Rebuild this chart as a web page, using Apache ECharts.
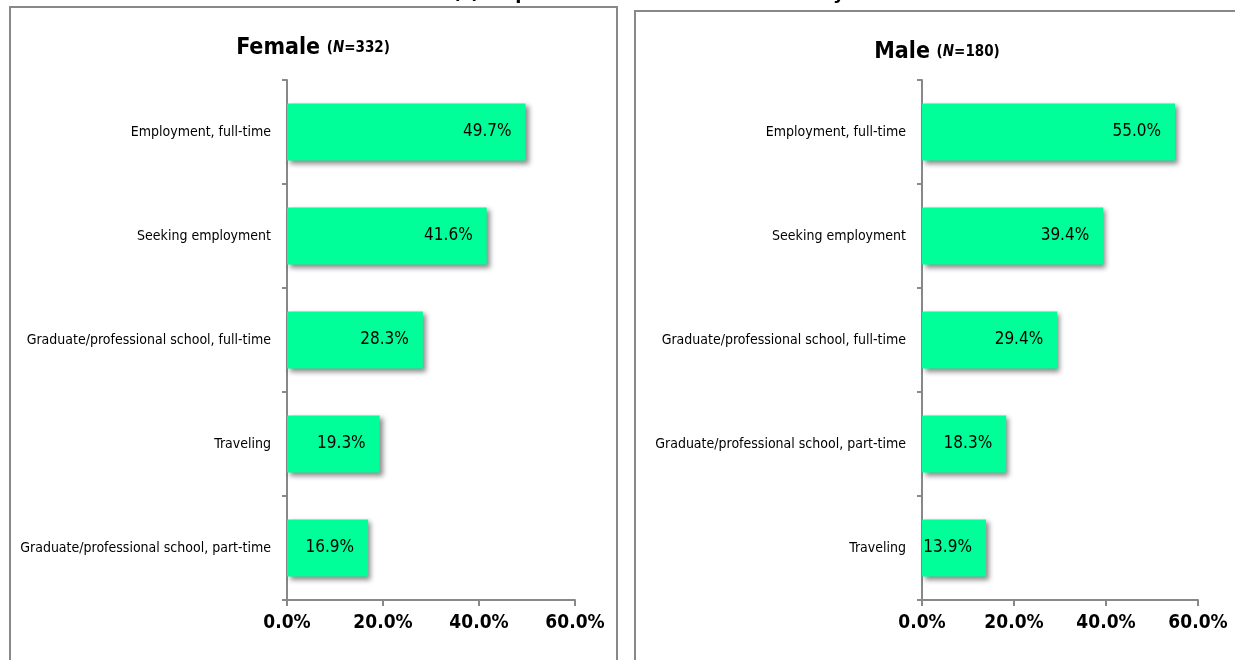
<!DOCTYPE html>
<html>
<head>
<meta charset="utf-8">
<script src="https://cdn.jsdelivr.net/npm/echarts@6/dist/echarts.min.js"></script>
<style>
html,body{margin:0;padding:0;background:#fff;}
#chart{width:1235px;height:660px;}
</style>
</head>
<body>
<div id="chart"></div>
<script>
const mainTitle = 'Future Plan(s): Top Five Plans after Graduation by Gender';
const femaleTitle = 'Female';
const femaleN = '332';
const maleTitle = 'Male';
const maleN = '180';
const femaleCategories = ['Employment, full-time', 'Seeking employment', 'Graduate/professional school, full-time', 'Traveling', 'Graduate/professional school, part-time'];
const femaleValues = [49.7, 41.6, 28.3, 19.3, 16.9];
const maleCategories = ['Employment, full-time', 'Seeking employment', 'Graduate/professional school, full-time', 'Graduate/professional school, part-time', 'Traveling'];
const maleValues = [55.0, 39.4, 29.4, 18.3, 13.9];
const xMin = 0, xMax = 60, xInterval = 20;

const FONT = '"DejaVu Sans Condensed", "Liberation Sans Narrow", "Roboto", sans-serif';
const AXIS = '#888888';
const BAR = '#00FF99';

const chart = echarts.init(document.getElementById('chart'), null, {renderer: 'canvas'});

function xAxisCfg(gi) {
  return {
    type: 'value', gridIndex: gi, min: xMin, max: xMax, interval: xInterval,
    axisLine: {show: true, lineStyle: {color: AXIS, width: 2}},
    axisTick: {show: true, length: 6, lineStyle: {color: AXIS, width: 2}},
    splitLine: {show: false},
    axisLabel: {formatter: v => v.toFixed(1) + '%', color: '#000', fontFamily: FONT, fontWeight: 'bold', fontSize: 19, margin: 14}
  };
}
function yAxisCfg(gi, cats) {
  return {
    type: 'category', gridIndex: gi, data: cats, inverse: true,
    axisLine: {show: true, lineStyle: {color: AXIS, width: 2}},
    axisTick: {show: true, length: 5, lineStyle: {color: AXIS, width: 2}},
    axisLabel: {color: '#000', fontFamily: FONT, fontSize: 14, margin: 16}
  };
}
function seriesCfg(gi, vals) {
  return {
    type: 'bar', xAxisIndex: gi, yAxisIndex: gi, data: vals, barWidth: '55%',
    itemStyle: {color: BAR, shadowColor: 'rgba(0,0,0,0.45)', shadowBlur: 5, shadowOffsetX: 3, shadowOffsetY: 3},
    label: {show: true, position: 'insideRight', offset: [-9, 0], formatter: p => p.value.toFixed(1) + '%', color: '#000', fontFamily: FONT, fontSize: 17},
    animation: false
  };
}

const option = {
  backgroundColor: '#fff',
  animation: false,
  grid: [
    {left: 287, right: 660, top: 80, bottom: 60},
    {left: 922, right: 37, top: 80, bottom: 60}
  ],
  xAxis: [xAxisCfg(0), xAxisCfg(1)],
  yAxis: [yAxisCfg(0, femaleCategories), yAxisCfg(1, maleCategories)],
  series: [seriesCfg(0, femaleValues), seriesCfg(1, maleValues)],
  graphic: [
    {type: 'rect', shape: {x: 10, y: 7, width: 607, height: 670}, style: {fill: 'none', stroke: AXIS, lineWidth: 2}, z: -1},
    {type: 'rect', shape: {x: 635, y: 11, width: 610, height: 670}, style: {fill: 'none', stroke: AXIS, lineWidth: 2}, z: -1},
    {type: 'text', x: 630, y: -6, style: {text: mainTitle, fill: '#000', font: 'bold 18px "DejaVu Sans", sans-serif', textAlign: 'center', textVerticalAlign: 'middle'}},
    {type: 'text', x: 313, y: 48, style: {
      text: '{b|' + femaleTitle + '}  {s|(}{i|N}{s|=' + femaleN + ')}',
      textAlign: 'center', textVerticalAlign: 'middle',
      rich: {
        b: {fontFamily: FONT, fontWeight: 'bold', fontSize: 23, fill: '#000', color: '#000'},
        s: {fontFamily: FONT, fontWeight: 'bold', fontSize: 15, fill: '#000', color: '#000'},
        i: {fontFamily: FONT, fontWeight: 'bold', fontStyle: 'italic', fontSize: 15, fill: '#000', color: '#000'}
      }
    }},
    {type: 'text', x: 937, y: 52, style: {
      text: '{b|' + maleTitle + '}  {s|(}{i|N}{s|=' + maleN + ')}',
      textAlign: 'center', textVerticalAlign: 'middle',
      rich: {
        b: {fontFamily: FONT, fontWeight: 'bold', fontSize: 23, fill: '#000', color: '#000'},
        s: {fontFamily: FONT, fontWeight: 'bold', fontSize: 15, fill: '#000', color: '#000'},
        i: {fontFamily: FONT, fontWeight: 'bold', fontStyle: 'italic', fontSize: 15, fill: '#000', color: '#000'}
      }
    }}
  ]
};
chart.setOption(option);
</script>
</body>
</html>
